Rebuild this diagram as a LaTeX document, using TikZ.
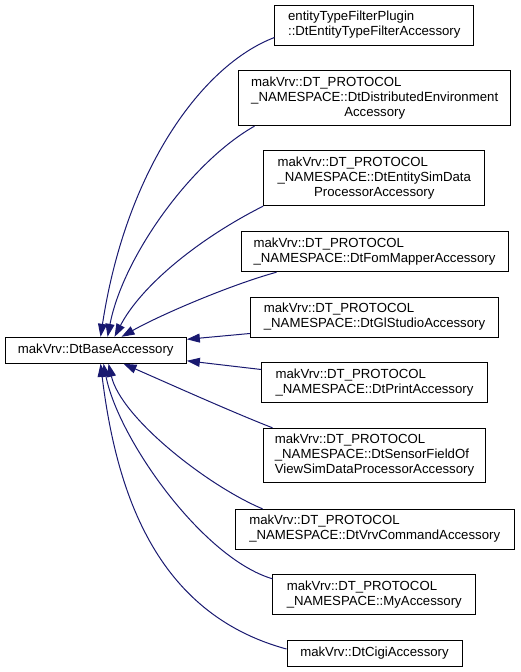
\documentclass[tikz,border=0pt]{standalone}
\usepackage{fontspec}
\setmainfont{Liberation Sans}
\usetikzlibrary{arrows.meta,calc}
\definecolor{edgeblue}{RGB}{25,25,112}
\newcommand\tlab[2]{\begin{tabular}{@{}l@{}}#1\\\multicolumn{1}{@{}c@{}}{#2}\end{tabular}}
\begin{document}
\begin{tikzpicture}[x=1pt,y=-1pt,
  box/.style={draw=black, line width=1pt, fill=white, inner sep=0pt,
    font=\fontsize{13.2}{15}\selectfont},
  edge/.style={draw=edgeblue, line width=1pt,
    {Triangle[length=13pt,width=9pt,fill=edgeblue]}-}]
\useasboundingbox (0,0) rectangle (520,672);
\node[box, minimum width=198.7pt, minimum height=40pt] (c1) at (374.3,25)
  {\tlab{entityTypeFilterPlugin}{::DtEntityTypeFilterAccessory}};
\node[box, minimum width=272pt, minimum height=54.7pt] (c2) at (374.7,98.3)
  {\tlab{makVrv::DT\_PROTOCOL\\\_NAMESPACE::DtDistributedEnvironment}{Accessory}};
\node[box, minimum width=221.3pt, minimum height=54.7pt] (c3) at (374.3,178.3)
  {\tlab{makVrv::DT\_PROTOCOL\\\_NAMESPACE::DtEntitySimData}{ProcessorAccessory}};
\node[box, minimum width=267pt, minimum height=40pt] (c4) at (374.5,251.7)
  {\tlab{makVrv::DT\_PROTOCOL}{\_NAMESPACE::DtFomMapperAccessory}};
\node[box, minimum width=248.4pt, minimum height=40pt] (c5) at (374.5,317.3)
  {\tlab{makVrv::DT\_PROTOCOL}{\_NAMESPACE::DtGlStudioAccessory}};
\node[box, minimum width=181.3pt, minimum height=26pt] (base) at (95.7,350.3)
  {makVrv::DtBaseAccessory};
\node[box, minimum width=225.6pt, minimum height=40pt] (c6) at (374.5,382.7)
  {\tlab{makVrv::DT\_PROTOCOL}{\_NAMESPACE::DtPrintAccessory}};
\node[box, minimum width=222.4pt, minimum height=54.4pt] (c7) at (374.5,455.5)
  {\tlab{makVrv::DT\_PROTOCOL\\\_NAMESPACE::DtSensorFieldOf}{ViewSimDataProcessorAccessory}};
\node[box, minimum width=278.7pt, minimum height=39.7pt] (c8) at (374.7,529.2)
  {\tlab{makVrv::DT\_PROTOCOL}{\_NAMESPACE::DtVrvCommandAccessory}};
\node[box, minimum width=202.7pt, minimum height=39.6pt] (c9) at (374.3,594.5)
  {\tlab{makVrv::DT\_PROTOCOL}{\_NAMESPACE::MyAccessory}};
\node[box, minimum width=175pt, minimum height=25.7pt] (c10) at (374.5,653.2)
  {makVrv::DtCigiAccessory};
% edges (arrow at base)
\draw[edge] ($(base.north west)+(96,0)$) .. controls (126,170) and (202,65) .. ($(c1.south west)+(0,-8)$);
\draw[edge] ($(base.north west)+(103,0)$) .. controls (123,257) and (191,162) .. ($(c2.south west)+(16.3,0)$);
\draw[edge] ($(base.north west)+(110,0)$) .. controls (141,286) and (198,239) .. (c3.south west);
\draw[edge] ($(base.north west)+(117,0)$) .. controls (160,315) and (230,285) .. ($(c4.south west)+(36,0)$);
\draw[edge] ($(base.north east)+(0,2.5)$) -- ($(c5.south west)+(0,-4.3)$);
\draw[edge] ($(base.south east)+(0,-3)$) -- ($(c6.north west)+(0,7.3)$);
\draw[edge] ($(base.south west)+(119,0)$) .. controls (164,381.5) and (233,412.5) .. ($(c7.north west)+(9.7,0)$);
\draw[edge] ($(base.south west)+(104,0)$) .. controls (121,418) and (208,486) .. ($(c8.north west)+(27.7,0)$);
\draw[edge] ($(base.south west)+(99,0)$) .. controls (118,438) and (202,558) .. ($(c9.north west)+(0,4.6)$);
\draw[edge] ($(base.south west)+(96,0)$) .. controls (116,489) and (154,613) .. ($(c10.west)+(0,-4.2)$);
\end{tikzpicture}
\end{document}
